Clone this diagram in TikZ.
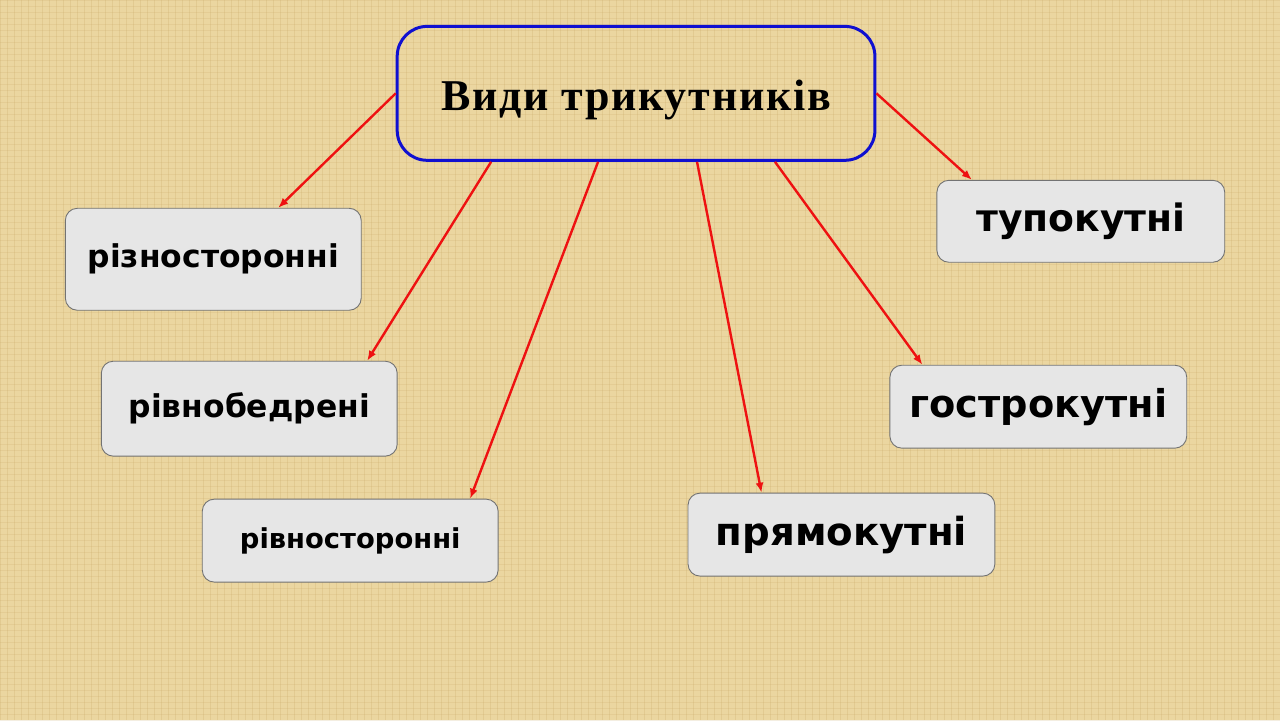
\documentclass[tikz,border=0pt]{standalone}
\usepackage{fontspec}
\setmainfont{Liberation Serif}
\newfontfamily\titlefont[LetterSpace=4]{Liberation Serif}
\newfontfamily\boxfont{DejaVu Sans}
\usetikzlibrary{arrows.meta}
\usetikzlibrary{positioning}
\definecolor{papyrus}{HTML}{EBD6A0}
\definecolor{papyrusdark}{HTML}{C8A868}
\definecolor{boxgray}{HTML}{E6E6E6}
\definecolor{titleblue}{HTML}{1010D0}
\definecolor{arrowred}{HTML}{EE1111}

\begin{document}
\begin{tikzpicture}[
x=1pt, y=-1pt,
titlenode/.style={rectangle, rounded corners=30pt, draw=titleblue, line width=3pt, minimum width=478pt, minimum height=134pt, align=center, font=\titlefont\bfseries\fontsize{44}{50}\selectfont},
kindnode/.style={rectangle, rounded corners=12pt, draw=black!55, fill=boxgray, line width=0.9pt, align=center, font=\boxfont\bfseries},
redarrow/.style={draw=arrowred, line width=2.4pt, -{Latex[length=10pt,width=8pt]}},
]
%Background
\fill[papyrus] (0,0) rectangle (1280,720);
\foreach \i in {0,7,...,1280} {\draw[papyrusdark, opacity=0.25, line width=0.8pt] (\i,0) -- (\i,720);}
\foreach \j in {0,6,...,720} {\draw[papyrusdark, opacity=0.2, line width=0.6pt] (0,\j) -- (1280,\j);}
\useasboundingbox (0,0) rectangle (1280,720);

%Nodes
\node[titlenode] (vydy_node) at (636,93) {\raisebox{-7pt}[\height][\depth]{Види трикутників}};
\node[kindnode, minimum width=296pt, minimum height=102pt, font=\boxfont\bfseries\fontsize{31.4}{36}\selectfont] (riznostoronni_node) at (213,259) {різносторонні};
\node[kindnode, minimum width=296pt, minimum height=95pt, font=\boxfont\bfseries\fontsize{31.4}{36}\selectfont] (rivnobedreni_node) at (249,408.5) {рівнобедрені};
\node[kindnode, minimum width=296pt, minimum height=83pt, font=\boxfont\bfseries\fontsize{27.4}{32}\selectfont] (rivnostoronni_node) at (350,540.5) {рівносторонні};
\node[kindnode, minimum width=307pt, minimum height=83pt, font=\boxfont\bfseries\fontsize{38.7}{44}\selectfont] (pryamokutni_node) at (841.5,534.5) {прямокутні};
\node[kindnode, minimum width=297pt, minimum height=83pt, font=\boxfont\bfseries\fontsize{38.3}{44}\selectfont] (gostrokutni_node) at (1038.5,406.5) {гострокутні};
\node[kindnode, minimum width=288pt, minimum height=82pt, font=\boxfont\bfseries\fontsize{37.7}{43}\selectfont] (tupokutni_node) at (1081,221) {тупокутні};

%Lines
\draw[redarrow] (vydy_node.west) -- ([xshift=65pt]riznostoronni_node.north);
\draw[redarrow] ([xshift=-145pt]vydy_node.south) -- ([xshift=118pt]rivnobedreni_node.north);
\draw[redarrow] ([xshift=-38pt]vydy_node.south) -- ([xshift=120pt]rivnostoronni_node.north);
\draw[redarrow] ([xshift=61pt]vydy_node.south) -- ([xshift=-80pt]pryamokutni_node.north);
\draw[redarrow] ([xshift=139pt]vydy_node.south) -- ([xshift=-116pt]gostrokutni_node.north);
\draw[redarrow] (vydy_node.east) -- ([xshift=-109pt]tupokutni_node.north);

\end{tikzpicture}
\end{document}
